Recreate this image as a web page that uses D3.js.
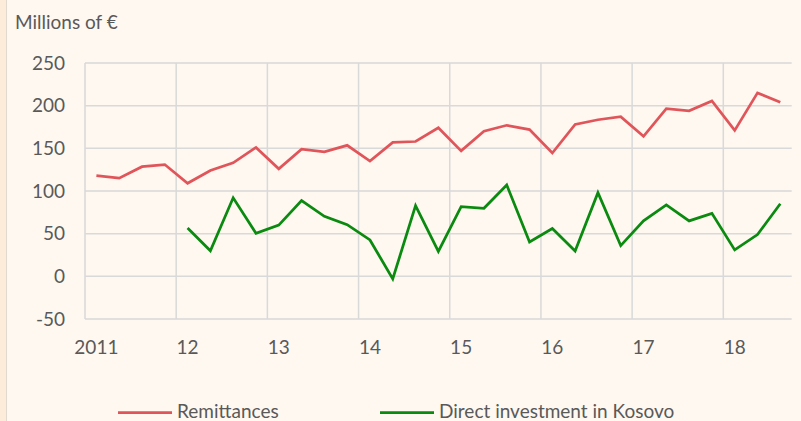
<!DOCTYPE html>
<html>
<head>
<meta charset="utf-8">
<script src="https://cdn.jsdelivr.net/npm/d3@7"></script>
<style>
  body { margin: 0; background: #fef8f1; }
  svg { display: block; font-family: Lato, "Open Sans", sans-serif; }
</style>
</head>
<body>
<div id="chart"></div>
<script>
// Quarterly data, 2011 Q1 .. 2018 Q3 (millions of €)
const quarters = d3.range(31).map(i => 2011 + (i + 0.5) / 4);
const remittances = [118, 115, 128.5, 131, 109, 124, 133, 151, 126, 149, 146, 153.5, 135, 157, 158,
  174, 147, 170, 177, 172, 144.5, 178, 183.5, 187, 164, 196.5, 194, 205.5, 171, 215, 204];
// no direct investment values before 2012
const directInvestment = [null, null, null, null, 56.7, 30, 92, 50.4, 60, 88.7, 70.3, 60.6, 42.6, -3, 82.8,
  29.3, 81.7, 79.7, 107, 40.3, 56, 29.7, 98, 36, 65, 83.6, 65, 73.8, 31, 49, 85];
const yTicks = [-50, 0, 50, 100, 150, 200, 250];
const xTicks = [2011, 2012, 2013, 2014, 2015, 2016, 2017, 2018];
const xTickLabels = ["2011", "12", "13", "14", "15", "16", "17", "18"];
const seriesNames = ["Remittances", "Direct investment in Kosovo"];
const colors = ["#e0555a", "#0a8a0f"];

const width = 801, height = 421;
const margin = { top: 63, right: 9.3, bottom: 102, left: 85 };
const fontSize = "19px";

const svg = d3.select("#chart").append("svg")
  .attr("width", width)
  .attr("height", height);

// background + left strip
svg.append("rect").attr("width", width).attr("height", height).attr("fill", "#fef8f1");
svg.append("rect").attr("width", 6).attr("height", height).attr("fill", "#fcecd9");
svg.append("line").attr("x1", 6.5).attr("x2", 6.5).attr("y1", 0).attr("y2", height)
  .attr("stroke", "#e2d9cf").attr("stroke-width", 1);

const x = d3.scaleLinear()
  .domain([2011, 2018.75])
  .range([margin.left, width - margin.right]);

const y = d3.scaleLinear()
  .domain([-50, 250])
  .range([height - margin.bottom, margin.top]);

// grid
svg.append("g")
  .selectAll("line")
  .data(yTicks)
  .join("line")
  .attr("x1", x.range()[0]).attr("x2", x.range()[1])
  .attr("y1", d => y(d)).attr("y2", d => y(d))
  .attr("stroke", "#d9d9d9").attr("stroke-width", 1.5);

svg.append("g")
  .selectAll("line")
  .data(xTicks)
  .join("line")
  .attr("x1", d => x(d)).attr("x2", d => x(d))
  .attr("y1", y(-50)).attr("y2", y(250))
  .attr("stroke", "#d9d9d9").attr("stroke-width", 1.5);

// y labels
svg.append("g")
  .selectAll("text")
  .data(yTicks)
  .join("text")
  .attr("x", 65)
  .attr("y", d => y(d))
  .attr("dy", "0.35em")
  .attr("text-anchor", "end")
  .style("font-size", fontSize)
  .style("fill", "#595959")
  .text(d => d);

// x labels, centred on the first quarter of each year
svg.append("g")
  .selectAll("text")
  .data(xTicks)
  .join("text")
  .attr("x", d => x(d + 0.125))
  .attr("y", 354)
  .attr("text-anchor", "middle")
  .style("font-size", fontSize)
  .style("fill", "#595959")
  .text((d, i) => xTickLabels[i]);

svg.append("text")
  .attr("x", 15)
  .attr("y", 29)
  .style("font-size", fontSize)
  .style("fill", "#595959")
  .text("Millions of €");

// lines
const line = d3.line()
  .defined(d => d[1] != null)
  .x(d => x(d[0]))
  .y(d => y(d[1]));

[remittances, directInvestment].forEach((vals, k) => {
  svg.append("path")
    .datum(quarters.map((q, i) => [q, vals[i]]))
    .attr("fill", "none")
    .attr("stroke", colors[k])
    .attr("stroke-width", 2.75)
    .attr("d", line);
});

// legend
const legendX = [118, 380];
legendX.forEach((lx, k) => {
  svg.append("line")
    .attr("x1", lx).attr("x2", lx + 54)
    .attr("y1", 412.5).attr("y2", 412.5)
    .attr("stroke", colors[k]).attr("stroke-width", 2.75);
  svg.append("text")
    .attr("x", lx + 59)
    .attr("y", 418)
    .style("font-size", fontSize)
    .style("fill", "#595959")
    .text(seriesNames[k]);
});
</script>
</body>
</html>
